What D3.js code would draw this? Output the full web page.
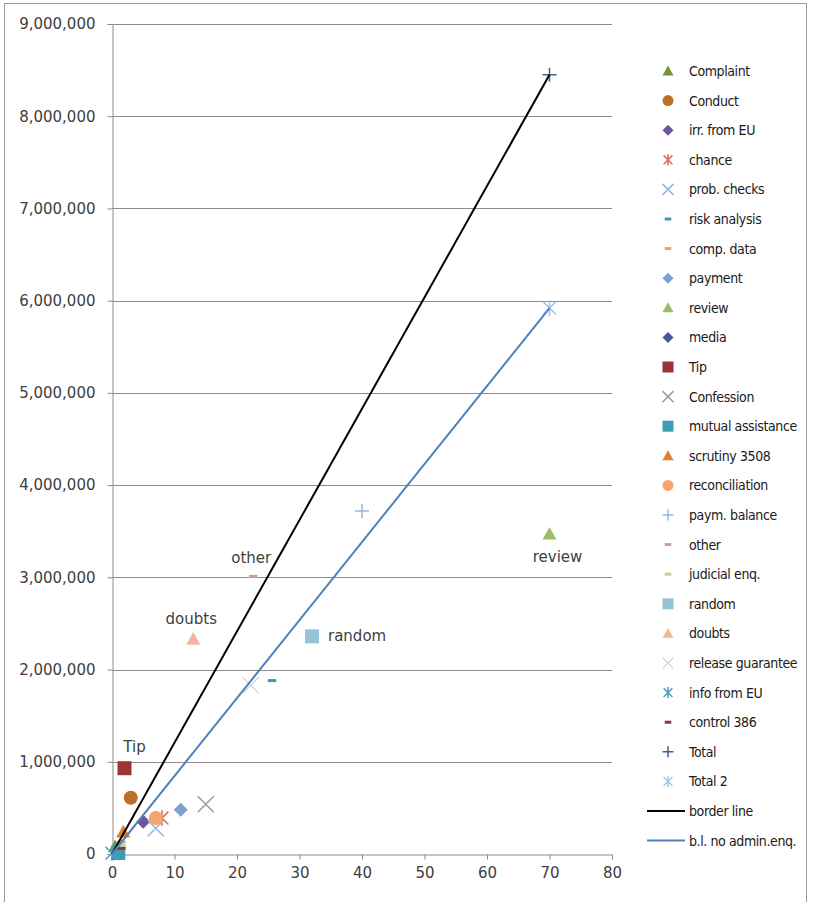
<!DOCTYPE html>
<html><head><meta charset="utf-8">
<script src="https://cdn.jsdelivr.net/npm/d3@7"></script>
<style>body{margin:0;background:#fff}</style>
</head><body>
<svg id="chart" width="820" height="902"></svg>
<script>
// ---- data ----
const seriesNames = ["Complaint","Conduct","irr. from EU","chance","prob. checks","risk analysis","comp. data","payment","review","media","Tip","Confession","mutual assistance","scrutiny 3508","reconciliation","paym. balance","other","judicial enq.","random","doubts","release guarantee","info from EU","control 386","Total","Total 2"];
const xValues = [0.5, 3, 5, 8, 7, 25.6, 1.5, 11, 70, 1, 2, 15, 1, 1.8, 7, 40, 22.6, 1.5, 32, 13, 22.2, 0, 1.5, 70, 70];
const yValues = [80000, 610000, 350000, 390000, 280000, 1880000, 130000, 480000, 3470000, 40000, 930000, 540000, 10000, 240000, 390000, 3720000, 3010000, 90000, 2360000, 2330000, 1830000, 10000, 60000, 8450000, 5920000];
const lineNames = ["border line", "b.l. no admin.enq."];
const lineXValues = [[0, 70], [0, 70]];
const lineYValues = [[0, 8450000], [0, 5920000]];
const labelledSeries = ["Tip", "other", "doubts", "random", "review"];
const xTickValues = [0, 10, 20, 30, 40, 50, 60, 70, 80];
const yTickValues = [0, 1000000, 2000000, 3000000, 4000000, 5000000, 6000000, 7000000, 8000000, 9000000];

// ---- styles ----
const markerStyle = {
  "Complaint": ["triangle", "#77933C"],
  "Conduct": ["circle", "#BE6F2C"],
  "irr. from EU": ["diamond", "#6E54A0"],
  "chance": ["star", "#D26F63"],
  "prob. checks": ["x", "#8EB4E3"],
  "risk analysis": ["dash", "#3C9FA8"],
  "comp. data": ["dash", "#F0A260"],
  "payment": ["diamond", "#7C9FD4"],
  "review": ["triangle", "#9DBB6A"],
  "media": ["diamond", "#3C5E99"],
  "Tip": ["square", "#9B3434"],
  "Confession": ["x", "#9C9C9C"],
  "mutual assistance": ["square", "#3D9DB4"],
  "scrutiny 3508": ["triangle", "#E07E2B"],
  "reconciliation": ["circle", "#F7A56D"],
  "paym. balance": ["plus", "#9AB7DD"],
  "other": ["dash", "#CC9E9A"],
  "judicial enq.": ["dash", "#BFD0A0"],
  "random": ["square", "#93C5D6"],
  "doubts": ["triangle", "#F4B59A"],
  "release guarantee": ["x", "#D9D9D9"],
  "info from EU": ["star", "#4A9FBE"],
  "control 386": ["dash", "#9B3434"],
  "Total": ["plus", "#43618F"],
  "Total 2": ["star", "#9DC8E8"]
};
const lineColors = ["#000000", "#4F81BD"];
const labelOffsets = {
  "Tip": [10, -16, "middle"],
  "other": [-2, -13, "middle"],
  "doubts": [-2, -15, "middle"],
  "random": [16, 5, "start"],
  "review": [8, 28, "middle"]
};

const svg = d3.select("#chart");
const plot = {left: 112, right: 612, top: 24, bottom: 854};

// frame
svg.append("rect").attr("x", 4.5).attr("y", 3.5).attr("width", 802).attr("height", 910)
  .attr("fill", "none").attr("stroke", "#9a9a9a").attr("stroke-width", 1);

const x = d3.scaleLinear().domain([0, 80]).range([plot.left, plot.right]);
const y = d3.scaleLinear().domain([0, 9000000]).range([plot.bottom, plot.top]);

// gridlines
svg.append("g").selectAll("line").data(yTickValues.filter(d => d > 0)).join("line")
  .attr("x1", plot.left).attr("x2", plot.right)
  .attr("y1", d => Math.round(y(d)) + 0.5).attr("y2", d => Math.round(y(d)) + 0.5)
  .attr("stroke", "#8c8c8c").attr("stroke-width", 1);

const fontAxis = "'DejaVu Sans', Verdana, sans-serif";

const yAxis = svg.append("g").attr("transform", `translate(${plot.left + 0.5},0)`)
  .call(d3.axisLeft(y).tickValues(yTickValues).tickFormat(d3.format(",")).tickSize(5).tickPadding(12));
const xAxis = svg.append("g").attr("transform", `translate(0,${plot.bottom + 0.5})`)
  .call(d3.axisBottom(x).tickValues(xTickValues).tickFormat(d3.format("d")).tickSize(5).tickPadding(8));
[yAxis, xAxis].forEach(a => {
  a.select(".domain").attr("stroke", "#8c8c8c");
  a.selectAll(".tick line").attr("stroke", "#8c8c8c");
  a.selectAll("text").attr("font-family", fontAxis).attr("font-size", 15).attr("fill", "#404040");
});

function drawMarker(g, type, color, s) {
  const h = s / 2;
  switch (type) {
    case "triangle":
      g.append("path").attr("d", `M0,${-h}L${h},${h * 0.8}L${-h},${h * 0.8}Z`).attr("fill", color); break;
    case "circle":
      g.append("circle").attr("r", h).attr("fill", color); break;
    case "diamond":
      g.append("path").attr("d", `M0,${-h}L${h},0L0,${h}L${-h},0Z`).attr("fill", color); break;
    case "square":
      g.append("rect").attr("x", -h).attr("y", -h).attr("width", s).attr("height", s).attr("fill", color); break;
    case "x":
      g.append("path").attr("d", `M${-h},${-h}L${h},${h}M${-h},${h}L${h},${-h}`).attr("stroke", color).attr("stroke-width", 1.5).attr("fill", "none"); break;
    case "star":
      g.append("path").attr("d", `M${-h * 0.8},${-h * 0.8}L${h * 0.8},${h * 0.8}M${-h * 0.8},${h * 0.8}L${h * 0.8},${-h * 0.8}M0,${-h}L0,${h}`).attr("stroke", color).attr("stroke-width", 1.5).attr("fill", "none"); break;
    case "plus":
      g.append("path").attr("d", `M${-h},0L${h},0M0,${-h}L0,${h}`).attr("stroke", color).attr("stroke-width", 1.5).attr("fill", "none"); break;
    case "dash":
      g.append("rect").attr("x", -s * 0.3).attr("y", -1.5).attr("width", s * 0.6).attr("height", 3).attr("fill", color); break;
  }
}

// scatter points
const pts = svg.append("g");
seriesNames.forEach((name, i) => {
  const [type, color] = markerStyle[name];
  const g = pts.append("g").attr("transform", `translate(${x(xValues[i])},${y(yValues[i])})`);
  const size = (type === "x" || type === "star") ? 16 : 14;
  drawMarker(g, type, color, size);
});

// lines
lineNames.forEach((name, i) => {
  const data = lineXValues[i].map((v, j) => [v, lineYValues[i][j]]);
  svg.append("path").datum(data)
    .attr("d", d3.line().x(d => x(d[0])).y(d => y(d[1])))
    .attr("stroke", lineColors[i]).attr("stroke-width", 2).attr("fill", "none");
});

// data labels
labelledSeries.forEach(name => {
  const i = seriesNames.indexOf(name);
  const [dx, dy, anchor] = labelOffsets[name];
  svg.append("text").attr("x", x(xValues[i]) + dx).attr("y", y(yValues[i]) + dy)
    .attr("text-anchor", anchor).attr("font-family", fontAxis).attr("font-size", 15)
    .attr("fill", "#404040").text(name);
});

// legend
const legendFont = "'Liberation Sans Narrow', 'DejaVu Sans Condensed', 'Arial Narrow', sans-serif";
const lg = svg.append("g");
const allLegend = seriesNames.concat(lineNames);
allLegend.forEach((name, i) => {
  const ly = 71 + i * 29.6;
  if (i < seriesNames.length) {
    const [type, color] = markerStyle[name];
    const g = lg.append("g").attr("transform", `translate(668,${ly})`);
    drawMarker(g, type, color, 11);
  } else {
    lg.append("line").attr("x1", 647).attr("x2", 685).attr("y1", ly).attr("y2", ly)
      .attr("stroke", lineColors[i - seriesNames.length]).attr("stroke-width", 2);
  }
  lg.append("text").attr("x", 689).attr("y", ly + 5).attr("font-family", legendFont)
    .attr("font-size", 14).attr("letter-spacing", -0.4).attr("fill", "#1a1a1a").text(name);
});
</script>
</body></html>
